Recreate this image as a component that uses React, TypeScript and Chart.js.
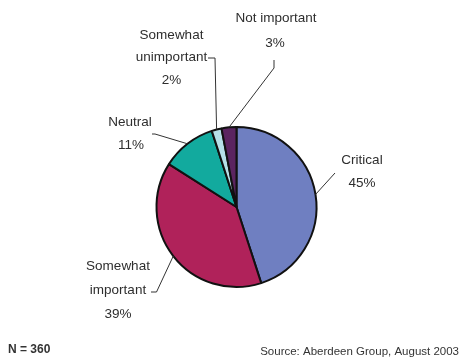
import React, { useEffect, useRef } from "react";
import { Chart, registerables } from "chart.js";

Chart.register(...registerables);

const categories = ["Critical", "Somewhat important", "Neutral", "Somewhat unimportant", "Not important"];
const values = [45, 39, 11, 2, 3];
const colors = ["#6f7fc1", "#b0225a", "#12aa9e", "#b6e0e8", "#5b2460"];
const labelLines = [["Critical"], ["Somewhat", "important"], ["Neutral"], ["Somewhat", "unimportant"], ["Not important"]];
const footnoteLeft = "N = 360";
const footnoteRight = "Source: Aberdeen Group, August 2003";

// Annotation layout (offsets from pie centre, px)
const labelTextPos: number[][][] = [
  [[125.5, -47], [125.5, -24]],
  [[-118.5, 59], [-118.5, 83], [-118.5, 107]],
  [[-106.5, -85], [-105.5, -62]],
  [[-65, -172], [-65, -150], [-65, -127]],
  [[39.5, -189], [38.5, -164]],
];
const leaderPts: number[][][] = [
  [[98.5, -34]],
  [[-80, 85], [-85.5, 85]],
  [[-81.5, -73], [-84.5, -73]],
  [[-21.5, -149], [-28.5, -149]],
  [[37.5, -139], [37.5, -147]],
];

const labelPlugin = {
  id: "pieLabels",
  afterDraw(chart: any) {
    const ctx = chart.ctx;
    const meta = chart.getDatasetMeta(0);
    ctx.save();
    meta.data.forEach((arc: any, i: number) => {
      const { x, y, outerRadius, startAngle, endAngle } = arc.getProps(
        ["x", "y", "outerRadius", "startAngle", "endAngle"],
        true
      );
      const mid = (startAngle + endAngle) / 2;
      const ex = x + Math.cos(mid) * outerRadius;
      const ey = y + Math.sin(mid) * outerRadius;
      ctx.strokeStyle = "#333";
      ctx.lineWidth = 1;
      ctx.beginPath();
      ctx.moveTo(ex, ey);
      leaderPts[i].forEach((p) => ctx.lineTo(x + p[0], y + p[1]));
      ctx.stroke();

      const lines = [...labelLines[i], values[i] + "%"];
      ctx.fillStyle = "#2e2e2e";
      ctx.font = "13.5px 'Liberation Sans', Arial, sans-serif";
      ctx.textAlign = "center";
      ctx.textBaseline = "middle";
      lines.forEach((t, j) => {
        const p = labelTextPos[i][j];
        ctx.fillText(t, x + p[0], y + p[1]);
      });
    });
    ctx.fillStyle = "#333";
    ctx.textBaseline = "middle";
    ctx.textAlign = "left";
    ctx.font = "bold 12px 'Liberation Sans', Arial, sans-serif";
    ctx.fillText(footnoteLeft, 8, 350);
    ctx.textAlign = "right";
    ctx.font = "11.5px 'Liberation Sans', Arial, sans-serif";
    ctx.fillText(footnoteRight, 459, 352);
    ctx.restore();
  },
};

export default function App() {
  const ref = useRef<HTMLCanvasElement>(null);
  useEffect(() => {
    if (!ref.current) return;
    const chart = new Chart(ref.current, {
      type: "pie",
      data: {
        labels: categories,
        datasets: [
          {
            data: values,
            backgroundColor: colors,
            borderColor: "#111",
            borderWidth: 2,
            hoverBorderWidth: 2,
            hoverOffset: 0,
            offset: 0,
          },
        ],
      },
      options: {
        responsive: false,
        animation: false,
        devicePixelRatio: 1,
        layout: { padding: { top: 126, bottom: 70, left: 155.5, right: 144.5 } },
        plugins: {
          legend: { display: false },
          tooltip: { enabled: false },
          title: { display: false },
        },
        events: [],
      },
      plugins: [labelPlugin],
    });
    return () => chart.destroy();
  }, []);
  return (
    <div style={{ position: "absolute", left: 0, top: 0, width: 462, height: 358, background: "#fff" }}>
      <canvas ref={ref} width={462} height={358} style={{ display: "block" }} />
    </div>
  );
}
